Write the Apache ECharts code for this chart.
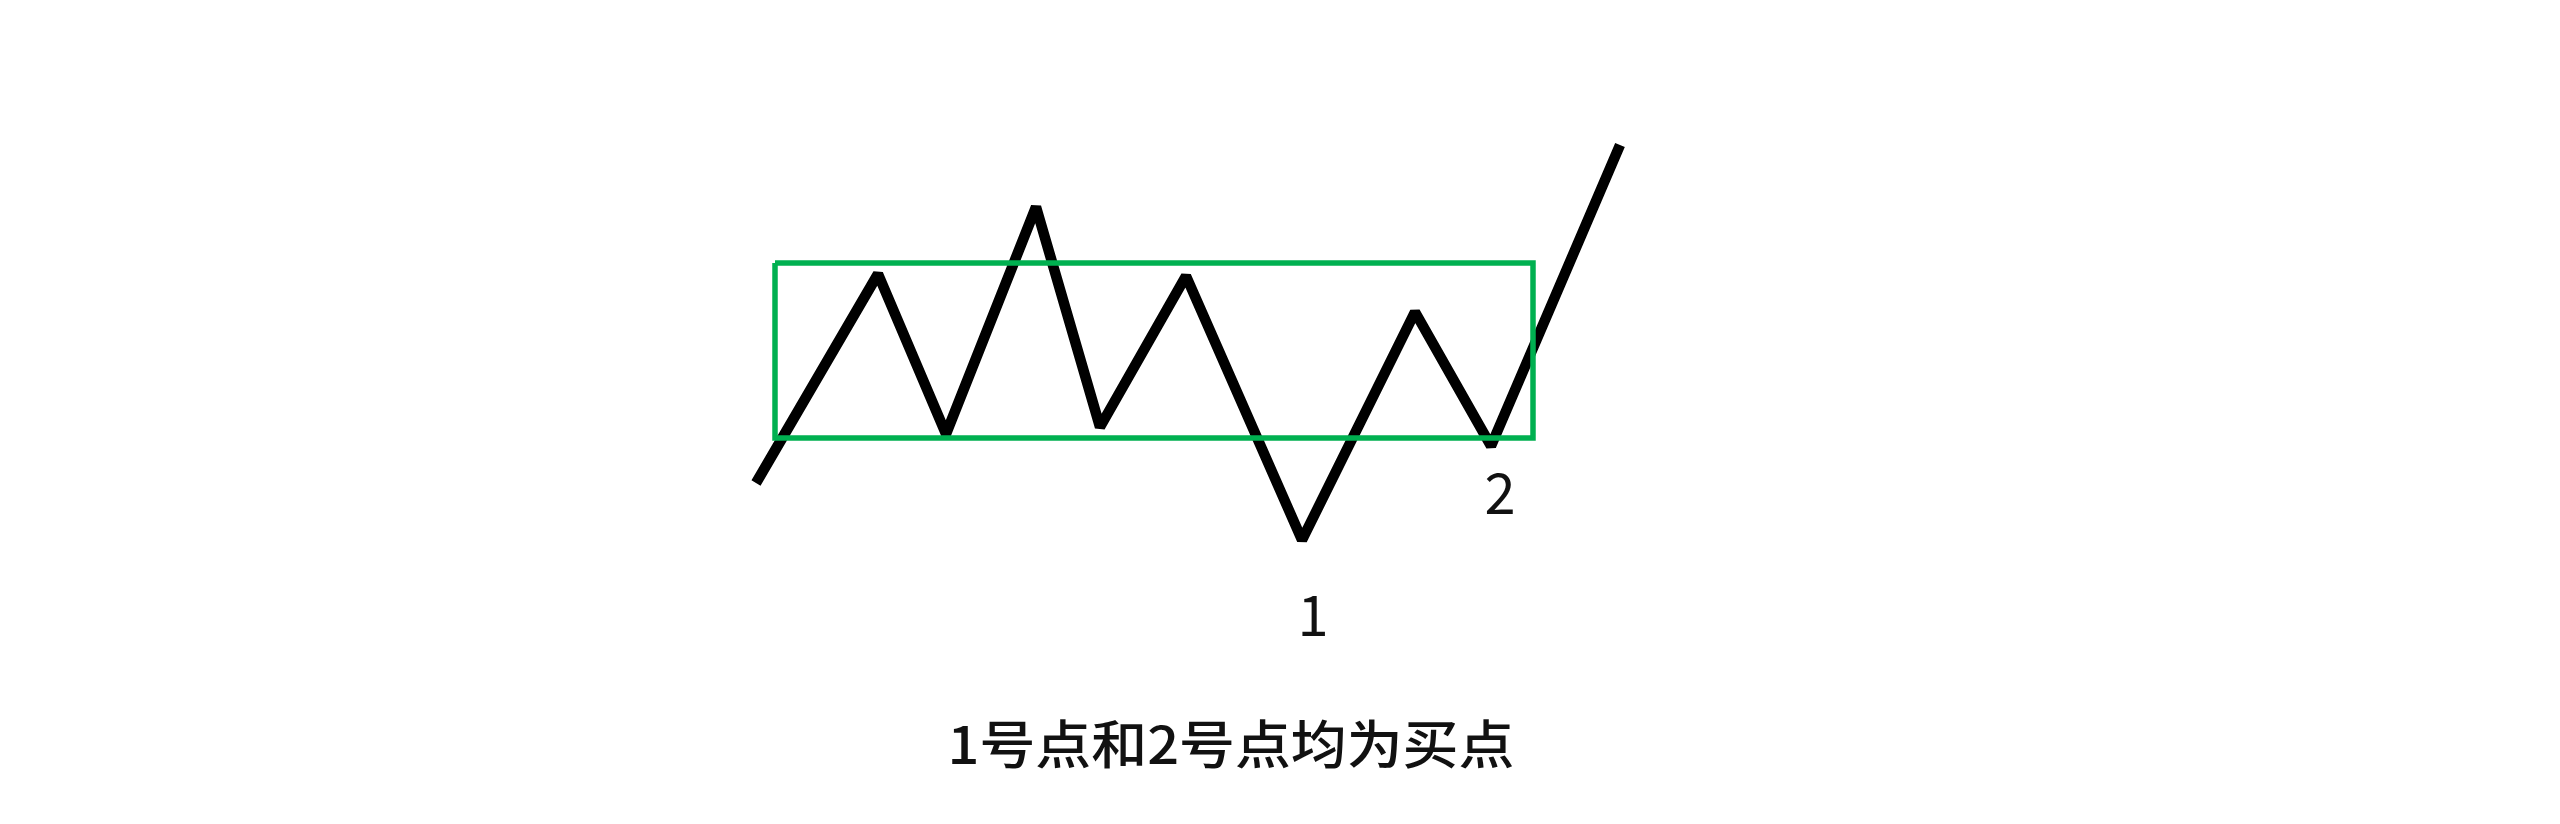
<!DOCTYPE html>
<html>
<head>
<meta charset="utf-8">
<script src="https://cdn.jsdelivr.net/npm/echarts@6/dist/echarts.min.js"></script>
<style>
html,body{margin:0;padding:0;background:#fff;}
#chart{width:2560px;height:824px;}
</style>
</head>
<body>
<div id="chart"></div>
<script>
// price path (time, price)
const pathTimes  = [5.6, 17.8, 24.6, 33.6, 40.0, 48.6, 60.2, 71.5, 79.1, 92.0];
const pathPrices = [11.7, 32.6, 16.6, 39.3, 17.3, 32.4, 6.0, 28.8, 15.4, 45.5];

// consolidation box
const boxTimes  = [7.5, 83.3];
const boxPrices = [16.2, 33.7];

// buy points
const buyIndex  = [6, 8];
const buyLabels = ['1', '2'];

const caption = '1号点和2号点均为买点';

const lineData = pathTimes.map((t, i) => [t, pathPrices[i]]);
const boxData = [
  [boxTimes[0], boxPrices[1]],
  [boxTimes[1], boxPrices[1]],
  [boxTimes[1], boxPrices[0]],
  [boxTimes[0], boxPrices[0]],
  [boxTimes[0], boxPrices[1]]
];
const labelOffsets = [[11, 75], [9, 47]];
const buyData = buyIndex.map((idx, k) => ({
  value: [pathTimes[idx], pathPrices[idx]],
  name: buyLabels[k],
  label: { offset: labelOffsets[k] }
}));

const chart = echarts.init(document.getElementById('chart'), null, {renderer: 'canvas'});
chart.setOption({
  animation: false,
  backgroundColor: '#ffffff',
  grid: { left: 700, top: 100, width: 1000, height: 500 },
  xAxis: { type: 'value', min: 0, max: 100, show: false },
  yAxis: { type: 'value', min: 0, max: 50, show: false },
  series: [
    {
      type: 'line',
      data: lineData,
      symbol: 'none',
      z: 2,
      lineStyle: { color: '#000000', width: 10.5, join: 'bevel', cap: 'butt' }
    },
    {
      type: 'line',
      data: boxData,
      symbol: 'none',
      z: 3,
      lineStyle: { color: '#00b050', width: 5.5, join: 'miter' }
    },
    {
      type: 'scatter',
      data: buyData,
      symbol: 'circle',
      symbolSize: 1,
      itemStyle: { color: 'rgba(0,0,0,0)', opacity: 1 },
      z: 4,
      label: {
        show: true,
        position: 'inside',
        formatter: '{b}',
        color: '#111111',
        opacity: 1,
        fontSize: 56,
        fontFamily: 'Noto Sans CJK SC'
      }
    }
  ],
  graphic: [
    {
      type: 'text',
      x: 1231,
      y: 744,
      scaleX: 1.075,
      style: {
        text: caption,
        font: '500 52px "Noto Sans CJK SC"',
        fill: '#111111',
        textAlign: 'center',
        textVerticalAlign: 'middle'
      }
    }
  ]
});
</script>
</body>
</html>
